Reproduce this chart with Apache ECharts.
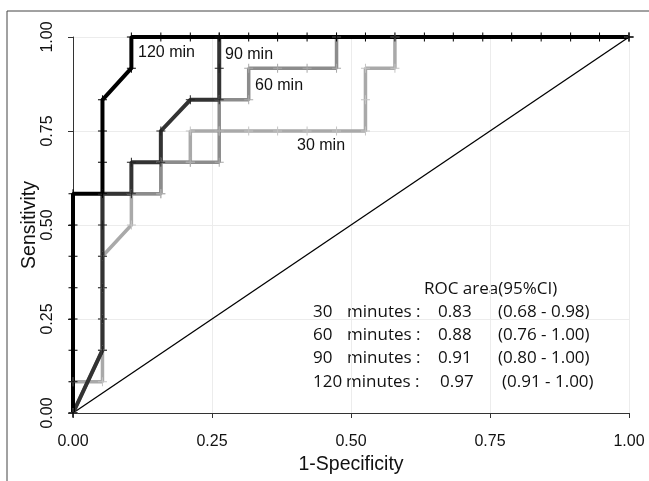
<!DOCTYPE html>
<html>
<head>
<meta charset="utf-8">
<script src="https://cdn.jsdelivr.net/npm/echarts@6/dist/echarts.min.js"></script>
<style>
  html, body { margin: 0; padding: 0; background: #fff; }
  #chart { width: 649px; height: 481px; }
</style>
</head>
<body>
<div id="chart"></div>
<script>
// ROC curves, 1-specificity (x) and sensitivity (y) for each time point
const fpr30 = [0, 0, 0.053, 0.053, 0.053, 0.053, 0.053, 0.105, 0.105, 0.158, 0.158, 0.211, 0.211, 0.263, 0.316, 0.368, 0.421, 0.474, 0.526, 0.526, 0.526, 0.579, 0.579, 1]
const tpr30 = [0, 0.083, 0.083, 0.167, 0.25, 0.333, 0.417, 0.5, 0.583, 0.583, 0.667, 0.667, 0.75, 0.75, 0.75, 0.75, 0.75, 0.75, 0.75, 0.833, 0.917, 0.917, 1, 1]

const fpr60 = [0, 0.053, 0.053, 0.105, 0.158, 0.158, 0.211, 0.263, 0.263, 0.263, 0.316, 0.316, 0.368, 0.421, 0.474, 0.474, 1]
const tpr60 = [0, 0.167, 0.583, 0.583, 0.583, 0.667, 0.667, 0.667, 0.75, 0.833, 0.833, 0.917, 0.917, 0.917, 0.917, 1, 1]

const fpr90 = [0, 0.053, 0.053, 0.053, 0.053, 0.053, 0.053, 0.105, 0.105, 0.158, 0.158, 0.211, 0.263, 0.263, 0.263, 1]
const tpr90 = [0, 0.167, 0.25, 0.333, 0.417, 0.5, 0.583, 0.583, 0.667, 0.667, 0.75, 0.833, 0.833, 0.917, 1, 1]

const fpr120 = [0, 0, 0, 0, 0, 0, 0, 0, 0.053, 0.053, 0.053, 0.053, 0.105, 0.105, 0.158, 0.211, 0.263, 0.316, 0.368, 0.421, 0.474, 0.526, 0.579, 0.632, 0.684, 0.737, 0.789, 0.842, 0.895, 0.947, 1]
const tpr120 = [0, 0.083, 0.167, 0.25, 0.333, 0.417, 0.5, 0.583, 0.583, 0.667, 0.75, 0.833, 0.917, 1, 1, 1, 1, 1, 1, 1, 1, 1, 1, 1, 1, 1, 1, 1, 1, 1, 1]

const refX = [0, 1]
const refY = [0, 1]

// ROC area table
const tableTitle = 'ROC area(95%CI)'
const tableMinutes = ['30', '60', '90', '120']
const tableAuc = ['0.83', '0.88', '0.91', '0.97']
const tableCi = ['(0.68 - 0.98)', '(0.76 - 1.00)', '(0.80 - 1.00)', '(0.91 - 1.00)']

const curveNames = ['30 min', '60 min', '90 min', '120 min']

const pairs = (xs, ys) => xs.map((x, i) => [x, ys[i]])

const plus = 'path://M0,4.45H10V5.55H0ZM4.45,0H5.55V10H4.45Z'

const rocSeries = (name, xs, ys, color, width, markColor) => ({
    name: name,
    type: 'line',
    data: pairs(xs, ys),
    symbol: plus,
    symbolSize: 9,
    showAllSymbol: true,
    clip: false,
    lineStyle: { color: color, width: width },
    itemStyle: { color: markColor },
    emphasis: { disabled: true },
})

const myChart = echarts.init(document.getElementById('chart'))

const labelFont = { fontFamily: 'Liberation Sans', fontSize: 16, fill: '#111' }
const tableFont = { fontFamily: 'Open Sans', fontSize: 17, fill: '#111' }

// table rows
const tableGraphics = [{
    type: 'text',
    left: 424,
    top: 281,
    style: Object.assign({ text: tableTitle }, tableFont),
}]
tableMinutes.forEach((m, i) => {
    const top = 303.5 + i * 23.3
    const wide = m.length > 2
    tableGraphics.push(
        { type: 'text', left: 313, top: top, style: Object.assign({ text: m }, tableFont) },
        { type: 'text', left: wide ? 346 : 347, top: top, style: Object.assign({ text: 'minutes :' }, tableFont) },
        { type: 'text', left: wide ? 440 : 438, top: top, style: Object.assign({ text: tableAuc[i] }, tableFont) },
        { type: 'text', left: wide ? 502 : 498, top: top, style: Object.assign({ text: tableCi[i] }, tableFont) },
    )
})

const option = {
    animation: false,
    backgroundColor: '#fff',
    grid: { left: 73, right: 20, top: 37, bottom: 68 },
    xAxis: {
        type: 'value',
        min: 0,
        max: 1,
        interval: 0.25,
        offset: 10,
        name: '1-Specificity',
        nameLocation: 'middle',
        nameGap: 32,
        nameTextStyle: { fontFamily: 'Liberation Sans', fontSize: 19.5, color: '#111' },
        axisLine: { lineStyle: { color: '#333', width: 1 } },
        axisTick: { length: 5, lineStyle: { color: '#333' } },
        axisLabel: {
            margin: 11,
            fontFamily: 'Liberation Sans',
            fontSize: 16,
            color: '#111',
            formatter: v => v.toFixed(2),
        },
        splitLine: { lineStyle: { color: '#ececec', width: 1 } },
    },
    yAxis: {
        type: 'value',
        min: 0,
        max: 1,
        interval: 0.25,
        offset: 10,
        name: 'Sensitivity',
        nameLocation: 'middle',
        nameGap: 23,
        nameMoveOverlap: false,
        nameTextStyle: { fontFamily: 'Liberation Sans', fontSize: 19.5, color: '#111' },
        axisLine: { show: true, lineStyle: { color: '#333', width: 1 } },
        axisTick: { show: true, length: 5, lineStyle: { color: '#333' } },
        axisLabel: {
            margin: 7,
            rotate: 90,
            fontFamily: 'Liberation Sans',
            fontSize: 16,
            color: '#111',
            formatter: v => v.toFixed(2),
        },
        splitLine: { lineStyle: { color: '#ececec', width: 1 } },
    },
    series: [
        {
            type: 'line',
            data: pairs(refX, refY),
            symbol: 'none',
            lineStyle: { color: '#000', width: 1.3 },
            emphasis: { disabled: true },
        },
        rocSeries(curveNames[0], fpr30, tpr30, '#a9a9a9', 3.5, '#c4c4c4'),
        rocSeries(curveNames[1], fpr60, tpr60, '#8c8c8c', 3.5, '#a8a8a8'),
        rocSeries(curveNames[2], fpr90, tpr90, '#333', 4, '#222'),
        rocSeries(curveNames[3], fpr120, tpr120, '#000', 4, '#000'),
    ],
    graphic: [
        // frame of the figure
        { type: 'line', shape: { x1: 7, y1: 11, x2: 649, y2: 11 }, style: { stroke: '#444', lineWidth: 1 } },
        { type: 'line', shape: { x1: 7, y1: 11, x2: 7, y2: 481 }, style: { stroke: '#444', lineWidth: 1 } },
        // curve labels
        { type: 'text', left: 138, top: 45, style: Object.assign({ text: curveNames[3] }, labelFont) },
        { type: 'text', left: 225, top: 47, style: Object.assign({ text: curveNames[2] }, labelFont) },
        { type: 'text', left: 255, top: 78, style: Object.assign({ text: curveNames[1] }, labelFont) },
        { type: 'text', left: 297, top: 138, style: Object.assign({ text: curveNames[0] }, labelFont) },
    ].concat(tableGraphics),
}

myChart.setOption(option)
</script>
</body>
</html>
